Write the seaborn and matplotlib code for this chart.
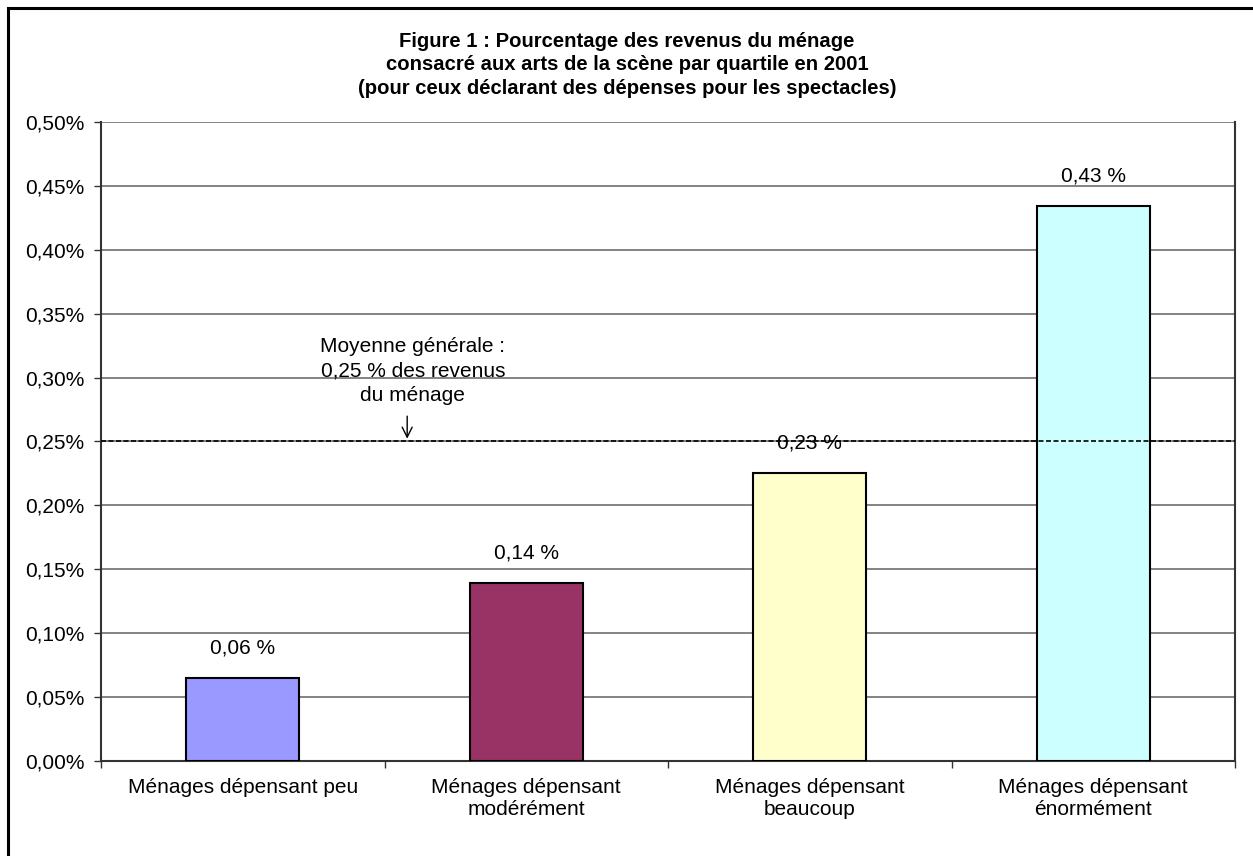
import matplotlib
matplotlib.use('Agg')
import matplotlib.pyplot as plt
from matplotlib.patches import Rectangle
from matplotlib.ticker import FuncFormatter, MultipleLocator
import seaborn as sns
import pandas as pd

# data (values in % of household income)
categories = ['Ménages dépensant peu',
              'Ménages dépensant\nmodérément',
              'Ménages dépensant\nbeaucoup',
              'Ménages dépensant\nénormément']
shares = [0.065, 0.139, 0.225, 0.434]
share_labels = ['0,06 %', '0,14 %', '0,23 %', '0,43 %']
bar_colors = ['#9999FF', '#993366', '#FFFFCC', '#CCFFFF']
overall_mean = 0.25
mean_note = 'Moyenne générale :\n0,25 % des revenus\ndu ménage'
title = ('Figure 1 : Pourcentage des revenus du ménage\n'
         'consacré aux arts de la scène par quartile en 2001\n'
         '(pour ceux déclarant des dépenses pour les spectacles)')

df = pd.DataFrame({'groupe': categories, 'part': shares})

sns.set_style('white')
plt.rcParams['font.family'] = ['Liberation Sans', 'DejaVu Sans']
plt.rcParams['text.color'] = 'black'
plt.rcParams['xtick.color'] = 'black'
plt.rcParams['ytick.color'] = 'black'

fig = plt.figure(figsize=(12.53, 8.56), dpi=100)
ax = fig.add_axes([101 / 1253, 1 - 761 / 856, (1235 - 101) / 1253, (761 - 122) / 856])

sns.barplot(data=df, x='groupe', y='part', hue='groupe', palette=bar_colors,
            legend=False, width=0.4, saturation=1, edgecolor='black',
            linewidth=1.5, ax=ax, zorder=3)

# axis and grid
ax.set_ylim(0, 0.5)
ax.set_xlim(-0.5, len(categories) - 0.5)
ax.yaxis.set_major_locator(MultipleLocator(0.05))
ax.yaxis.set_major_formatter(FuncFormatter(lambda v, p: f'{v:.2f}%'.replace('.', ',')))
ax.grid(axis='y', color='#6e6e6e', linewidth=1.2, zorder=0)
ax.set_axisbelow(True)
ax.set_xlabel('')
ax.set_ylabel('')
ax.tick_params(axis='y', which='major', direction='out', length=5, width=1,
               color='#333333', labelsize=15, labelcolor='black', pad=7, left=True)
ax.tick_params(axis='x', which='major', length=0, labelsize=15,
               labelcolor='black', pad=12)
ax.set_xticks([i - 0.5 for i in range(len(categories) + 1)], minor=True)
ax.tick_params(axis='x', which='minor', direction='out', length=5, width=1,
               color='#333333', bottom=True)
for side in ['left', 'bottom', 'right']:
    ax.spines[side].set_color('#333333')
    ax.spines[side].set_linewidth(1.5)
ax.spines['top'].set_visible(False)

# value labels above bars
for i, (v, lab) in enumerate(zip(shares, share_labels)):
    ax.annotate(lab, xy=(i, v), xytext=(0, 15), textcoords='offset points',
                ha='center', va='bottom', fontsize=15, color='black')

# overall mean line with note
ax.axhline(overall_mean, color='black', linestyle=(0, (3, 1.5)), linewidth=1.2, zorder=4)
ax.text(0.6, 0.305, mean_note, ha='center', va='center', fontsize=15,
        multialignment='center', linespacing=1.35, color='black', zorder=5)
ax.annotate('', xy=(0.58, overall_mean), xytext=(0.58, 0.272),
            arrowprops=dict(arrowstyle='->', color='black', lw=1, mutation_scale=18),
            zorder=5)

fig.text(627 / 1253, 1 - 65 / 856, title, ha='center', va='center',
         fontsize=14.6, fontweight='bold', linespacing=1.3, color='black')

# outer chart frame (only left/top edges visible in the reference)
fig.patches.append(Rectangle((8 / 1253, -0.5), 2, 1.5 - 8 / 856,
                             transform=fig.transFigure, fill=False,
                             edgecolor='black', linewidth=2.2))

fig.savefig('out.png', dpi=100)
